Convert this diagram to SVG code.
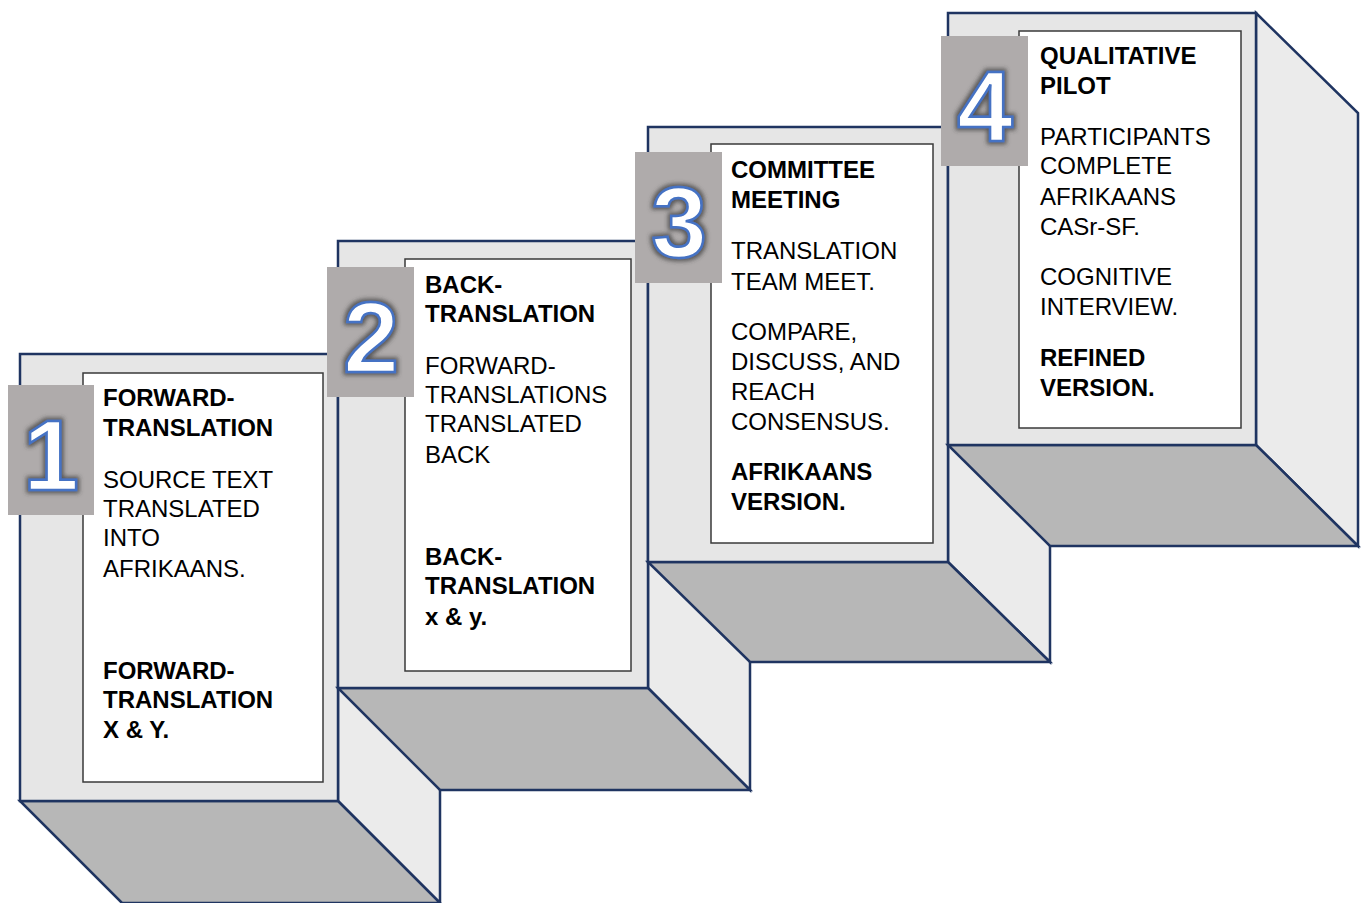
<svg xmlns="http://www.w3.org/2000/svg" width="1362" height="903" viewBox="0 0 1362 903">
  <style>
    .front { fill: #e6e6e6; stroke: #1f3461; stroke-width: 2.5; stroke-linejoin: miter; }
    .side { fill: #ebebeb; stroke: #1f3461; stroke-width: 2.5; stroke-linejoin: miter; }
    .floor { fill: #b7b7b7; stroke: #1f3461; stroke-width: 2.5; stroke-linejoin: miter; }
    .card { fill: #ffffff; stroke: #3a3a3a; stroke-width: 1.5; }
    .badge { fill: #afabab; }
    .num { font-family: "Liberation Sans", Arial, sans-serif; font-size: 100px; font-weight: bold; fill: #ffffff; stroke: #4472c4; stroke-width: 2.5; text-anchor: middle; filter: url(#glow); }
    .t { font-family: "Liberation Sans", Arial, sans-serif; font-size: 24px; fill: #000000; }
    .b { font-weight: bold; }
  </style>
  <defs>
    <filter id="glow" x="-30%" y="-30%" width="160%" height="160%">
      <feMorphology in="SourceAlpha" operator="dilate" radius="1.5" result="grown"/>
      <feGaussianBlur in="grown" stdDeviation="2" result="soft"/>
      <feFlood flood-color="#3a3a3a" flood-opacity="0.75"/>
      <feComposite in2="soft" operator="in" result="shadow"/>
      <feMerge>
        <feMergeNode in="shadow"/>
        <feMergeNode in="SourceGraphic"/>
      </feMerge>
    </filter>
  </defs>

  <!-- Step 1: forward translation -->
  <g id="step1">
    <polygon class="side" points="338,354 440,454 440,903 338,801"/>
    <polygon class="floor" points="20,801 338,801 440,903 122,903"/>
    <rect class="front" x="20" y="354" width="318" height="447"/>
    <rect class="card" x="83" y="373" width="240" height="409"/>
    <rect class="badge" x="8" y="385" width="86" height="130"/>
    <text class="num" x="51" y="490">1</text>
    <text class="t b" x="103" y="406">FORWARD-</text>
    <text class="t b" x="103" y="436">TRANSLATION</text>
    <text class="t" x="103" y="488">SOURCE TEXT</text>
    <text class="t" x="103" y="517">TRANSLATED</text>
    <text class="t" x="103" y="546">INTO</text>
    <text class="t" x="103" y="577">AFRIKAANS.</text>
    <text class="t b" x="103" y="679">FORWARD-</text>
    <text class="t b" x="103" y="708">TRANSLATION</text>
    <text class="t b" x="103" y="738">X &amp; Y.</text>
  </g>

  <!-- Step 2: back translation -->
  <g id="step2">
    <polygon class="side" points="648,241 750,341 750,790 648,688"/>
    <polygon class="floor" points="338,688 648,688 750,790 440,790"/>
    <rect class="front" x="338" y="241" width="310" height="447"/>
    <rect class="card" x="405" y="259" width="226" height="412"/>
    <rect class="badge" x="327" y="267" width="87" height="130"/>
    <text class="num" x="371" y="372">2</text>
    <text class="t b" x="425" y="293">BACK-</text>
    <text class="t b" x="425" y="322">TRANSLATION</text>
    <text class="t" x="425" y="374">FORWARD-</text>
    <text class="t" x="425" y="403">TRANSLATIONS</text>
    <text class="t" x="425" y="432">TRANSLATED</text>
    <text class="t" x="425" y="463">BACK</text>
    <text class="t b" x="425" y="565">BACK-</text>
    <text class="t b" x="425" y="594">TRANSLATION</text>
    <text class="t b" x="425" y="625">x &amp; y.</text>
  </g>

  <!-- Step 3: committee meeting -->
  <g id="step3">
    <polygon class="side" points="948,127 1050,227 1050,662 948,562"/>
    <polygon class="floor" points="648,562 948,562 1050,662 750,662"/>
    <rect class="front" x="648" y="127" width="300" height="435"/>
    <rect class="card" x="711" y="144" width="222" height="399"/>
    <rect class="badge" x="635" y="152" width="87" height="131"/>
    <text class="num" x="679" y="257">3</text>
    <text class="t b" x="731" y="178">COMMITTEE</text>
    <text class="t b" x="731" y="208">MEETING</text>
    <text class="t" x="731" y="259">TRANSLATION</text>
    <text class="t" x="731" y="290">TEAM MEET.</text>
    <text class="t" x="731" y="340">COMPARE,</text>
    <text class="t" x="731" y="370">DISCUSS, AND</text>
    <text class="t" x="731" y="400">REACH</text>
    <text class="t" x="731" y="430">CONSENSUS.</text>
    <text class="t b" x="731" y="480">AFRIKAANS</text>
    <text class="t b" x="731" y="510">VERSION.</text>
  </g>

  <!-- Step 4: qualitative pilot -->
  <g id="step4">
    <polygon class="side" points="1256,13 1358,113 1358,546 1256,445"/>
    <polygon class="floor" points="948,445 1256,445 1358,546 1050,546"/>
    <rect class="front" x="948" y="13" width="308" height="432"/>
    <rect class="card" x="1019" y="31" width="222" height="397"/>
    <rect class="badge" x="941" y="36" width="87" height="130"/>
    <text class="num" x="985" y="141">4</text>
    <text class="t b" x="1040" y="64">QUALITATIVE</text>
    <text class="t b" x="1040" y="94">PILOT</text>
    <text class="t" x="1040" y="145">PARTICIPANTS</text>
    <text class="t" x="1040" y="174">COMPLETE</text>
    <text class="t" x="1040" y="205">AFRIKAANS</text>
    <text class="t" x="1040" y="235">CASr-SF.</text>
    <text class="t" x="1040" y="285">COGNITIVE</text>
    <text class="t" x="1040" y="315">INTERVIEW.</text>
    <text class="t b" x="1040" y="366">REFINED</text>
    <text class="t b" x="1040" y="396">VERSION.</text>
  </g>

  <!-- No connectors: the steps are joined by their own geometry -->
  <g id="connectors"/>
</svg>
